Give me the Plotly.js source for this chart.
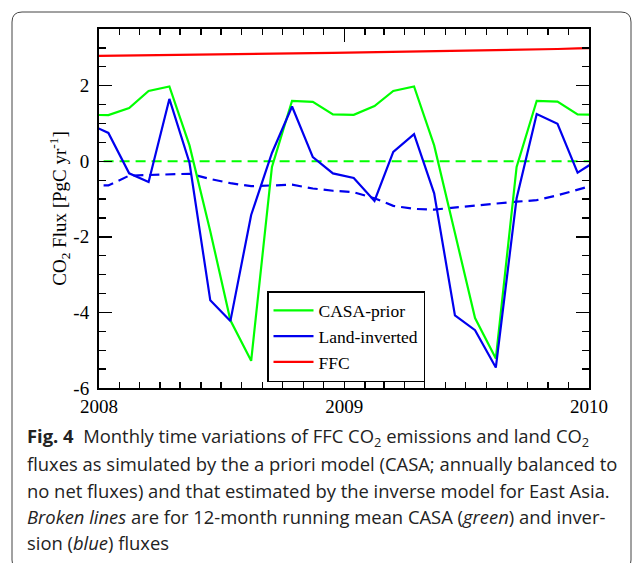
<!DOCTYPE html>
<html>
<head>
<meta charset="utf-8">
<script src="https://cdn.plot.ly/plotly-3.0.1.min.js"></script>
<style>html,body{margin:0;padding:0;background:#fff;}#chart{width:632px;height:563px;}</style>
</head>
<body>
<div id="chart"></div>
<script>
// Monthly time axis (mid-month), Dec 2007 .. Jan 2010
const months = [
  '2007-12-15',
  '2008-01-15','2008-02-15','2008-03-15','2008-04-15','2008-05-15','2008-06-15',
  '2008-07-15','2008-08-15','2008-09-15','2008-10-15','2008-11-15','2008-12-15',
  '2009-01-15','2009-02-15','2009-03-15','2009-04-15','2009-05-15','2009-06-15',
  '2009-07-15','2009-08-15','2009-09-15','2009-10-15','2009-11-15','2009-12-15',
  '2010-01-15'
];
const casaPrior = [1.23,
  1.22, 1.41, 1.86, 1.98, 0.42, -1.85, -4.21, -5.28, -0.15, 1.60, 1.57, 1.24,
  1.23, 1.46, 1.86, 1.98, 0.42, -1.90, -4.15, -5.22, -0.15, 1.60, 1.58, 1.24,
  1.23];
const landInverted = [1.00,
  0.75, -0.32, -0.55, 1.65, -0.04, -3.68, -4.23, -1.42, 0.22, 1.45, 0.11, -0.32,
  -0.44, -1.05, 0.25, 0.72, -0.85, -4.08, -4.47, -5.46, -0.98, 1.25, 0.99, -0.30,
  0.05];
const ffc = [2.785,
  2.790, 2.797, 2.803, 2.810, 2.817, 2.824, 2.831, 2.838, 2.845, 2.852, 2.859, 2.867,
  2.875, 2.883, 2.891, 2.899, 2.908, 2.917, 2.927, 2.937, 2.948, 2.959, 2.971, 2.985,
  3.000];
const casaMean = [0,
  0,0,0,0,0,0,0,0,0,0,0,0,
  0,0,0,0,0,0,0,0,0,0,0,0,
  0];
const landMean = [-0.63,
  -0.64, -0.38, -0.37, -0.34, -0.33, -0.47, -0.58, -0.66, -0.64, -0.62, -0.72, -0.78,
  -0.82, -0.98, -1.18, -1.26, -1.28, -1.22, -1.17, -1.12, -1.07, -1.03, -0.90, -0.76,
  -0.60];
const yTickVals = [-6, -4, -2, 0, 2];
const yTickText = ['-6', '-4', '-2', '0', '2'];
const xTickVals = ['2008-01-01', '2009-01-01', '2010-01-01'];
const xTickText = ['2008', '2009', '2010'];
const names = ['CASA-prior', 'Land-inverted', 'FFC'];

const GREEN = '#00ff00', BLUE = '#0000ee', RED = '#ff0000';
const serif = 'Liberation Serif, Times New Roman, serif';

const traces = [
  {x: months, y: casaMean, mode: 'lines', line: {color: GREEN, width: 2.2, dash: '10px,6px'}, showlegend: false, hoverinfo: 'skip'},
  {x: months, y: landMean, mode: 'lines', line: {color: BLUE, width: 2.2, dash: '10px,6px'}, showlegend: false, hoverinfo: 'skip'},
  {x: months, y: casaPrior, mode: 'lines', name: names[0], line: {color: GREEN, width: 2.2}},
  {x: months, y: landInverted, mode: 'lines', name: names[1], line: {color: BLUE, width: 2.2}},
  {x: months, y: ffc, mode: 'lines', name: names[2], line: {color: RED, width: 2.2}}
];

// pixel -> paper helpers for the plot area (x 99..589, y 29..388)
const L = 99, R = 589, T = 29, B = 388;
const px = v => (v - L) / (R - L);
const py = v => (B - v) / (B - T);

const capFont = {family: 'Open Sans, sans-serif', size: 18.4, color: '#222'};
const capLines = [
  '<b>Fig. 4</b>  Monthly time variations of FFC CO<sub>2</sub> emissions and land CO<sub>2</sub>',
  'fluxes as simulated by the a priori model (CASA; annually balanced to',
  'no net fluxes) and that estimated by the inverse model for East Asia.',
  '<i>Broken lines</i> are for 12-month running mean CASA (<i>green</i>) and inver-',
  'sion (<i>blue</i>) fluxes'
];
const capY = [437, 464, 490, 516, 542];
const annotations = capLines.map((t, i) => ({
  text: t, xref: 'paper', yref: 'paper', x: px(25), y: py(capY[i]),
  xanchor: 'left', yanchor: 'middle', align: 'left', showarrow: false, font: capFont
}));

const x0 = px(12), x1 = px(631), y0 = py(12), y1 = py(570);
const rx = 10 / (R - L), ry = 10 / (B - T);
const framePath = `M ${x0},${y1 + ry} L ${x0},${y0 - ry} Q ${x0},${y0} ${x0 + rx},${y0} L ${x1 - rx},${y0} Q ${x1},${y0} ${x1},${y0 - ry} L ${x1},${y1 + ry} Q ${x1},${y1} ${x1 - rx},${y1} L ${x0 + rx},${y1} Q ${x0},${y1} ${x0},${y1 + ry} Z`;

const layout = {
  width: 632, height: 563,
  margin: {l: L, r: 632 - R, t: T, b: 563 - B},
  paper_bgcolor: '#fff', plot_bgcolor: '#fff',
  showlegend: true,
  legend: {
    x: px(267), y: py(291), xanchor: 'left', yanchor: 'top',
    bordercolor: '#000', borderwidth: 1.5, bgcolor: '#fff',
    font: {family: serif, size: 17.5, color: '#000'},
    tracegroupgap: 0, itemwidth: 40
  },
  xaxis: {
    type: 'date', range: ['2008-01-01', '2010-01-01'],
    tickmode: 'array', tickvals: xTickVals, ticktext: xTickText,
    ticks: 'inside', ticklen: 13, tickwidth: 1.5, tickcolor: '#000',
    minor: {dtick: 'M1', tick0: '2008-01-01', ticks: 'inside', ticklen: 6, tickwidth: 1.3, tickcolor: '#000', showgrid: false},
    showline: true, linecolor: '#000', linewidth: 2, mirror: 'allticks',
    showgrid: false, zeroline: false,
    tickfont: {family: serif, size: 19, color: '#000'}
  },
  yaxis: {
    range: [-6, 3.5],
    tickmode: 'array', tickvals: yTickVals, ticktext: yTickText,
    ticks: 'inside', ticklen: 13, tickwidth: 1.5, tickcolor: '#000',
    minor: {dtick: 0.5, tick0: 0, ticks: 'inside', ticklen: 7, tickwidth: 1.3, tickcolor: '#000', showgrid: false},
    showline: true, linecolor: '#000', linewidth: 2, mirror: 'allticks',
    showgrid: false, zeroline: false, ticklabelstandoff: 4,
    tickfont: {family: serif, size: 19, color: '#000'},
    title: {text: 'CO<sub>2</sub> Flux [PgC yr<sup>-1</sup>]', font: {family: serif, size: 19, color: '#000'}, standoff: 2}
  },
  shapes: [{type: 'path', xref: 'paper', yref: 'paper', path: framePath, line: {color: '#444', width: 1}, layer: 'below'}],
  annotations: annotations
};

Plotly.newPlot('chart', traces, layout, {displayModeBar: false, staticPlot: true});
</script>
</body>
</html>
